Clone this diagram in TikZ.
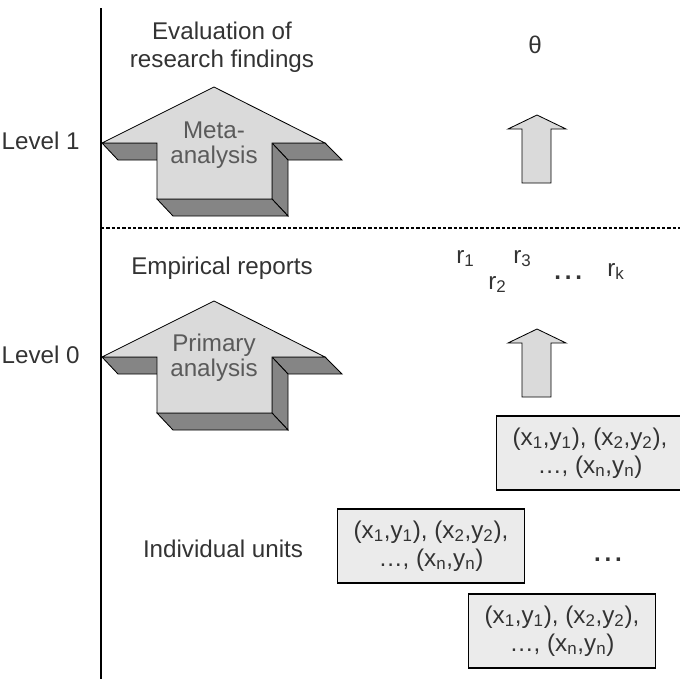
\documentclass[tikz,border=0pt]{standalone}
\usepackage{fontspec}
\setmainfont{Liberation Sans}
\usetikzlibrary{positioning}
\definecolor{ink}{HTML}{333333}
\definecolor{facegray}{HTML}{DADADA}
\definecolor{sidegray}{HTML}{858585}
\definecolor{boxgray}{HTML}{EBEBEB}
\definecolor{labelgray}{HTML}{5A5A5A}
\newcommand{\widedots}{.\hspace{0.16em}.\hspace{0.16em}.}

\begin{document}
\begin{tikzpicture}[x=0.025cm,y=-0.025cm,every node/.style={font=\fontsize{17.2}{20}\selectfont,text=ink,align=center,inner sep=0pt},face/.style={draw=black,fill=facegray,line width=0.6pt,line join=miter},side/.style={draw=black,fill=sidegray,line width=0.6pt},databox/.style={draw=black,fill=boxgray,line width=1.2pt,minimum width=4.675cm,minimum height=1.85cm},arrowtext/.style={text=labelgray,font=\fontsize{17.2}{17.5}\selectfont},moredots/.style={font=\fontsize{17.2}{20}\selectfont\bfseries}]
\useasboundingbox (0,0) rectangle (680,679);
% axis and level separator
\draw[line width=1.4pt] (101,8) -- (101,679);
\draw[line width=0.9pt,dash pattern=on 2.4pt off 1.4pt] (101,228) -- (680,228);
% extruded analysis arrows
\foreach \dy in {0,214}{
\begin{scope}[shift={(0,\dy)}]
\filldraw[side] (102,143) -- (157,143) -- (173,160) -- (118,160) -- cycle;
\filldraw[side] (272,143) -- (325,143) -- (342,160) -- (288,160) -- cycle;
\filldraw[side] (272,143) -- (288,160) -- (288,216) -- (272,199) -- cycle;
\filldraw[side] (157,199) -- (272,199) -- (288,216) -- (173,216) -- cycle;
\filldraw[face] (214,87) -- (325,143) -- (272,143) -- (272,199) -- (157,199) -- (157,143) -- (102,143) -- cycle;
% flat arrows on the right
\filldraw[face] (537,115) -- (566,129) -- (551,129) -- (551,183) -- (522,183) -- (522,129) -- (508,129) -- cycle;
\end{scope}
}
% level 1
\node[anchor=east] (lvl1) at (80,141) {Level 1};
\node (evaluation) at (222,47) {Evaluation of\\research findings};
\node (theta) at (535,45) {θ};
\node[arrowtext] (meta) at (214,145) {Meta-\\analysis};
% level 0
\node[anchor=east] (lvl0) at (80,355) {Level 0};
\node (reports) at (222,268) {Empirical reports};
\node[anchor=base west] (r1) at (456,263) {r\textsubscript{1}};
\node[anchor=base west] (r2) at (488,289) {r\textsubscript{2}};
\node[anchor=base west] (r3) at (513,263) {r\textsubscript{3}};
\node[moredots,anchor=base west] (rdots) at (554,279) {\widedots};
\node[anchor=base west] (rk) at (607,276) {r\textsubscript{k}};
\node[arrowtext] (primary) at (214,358) {Primary\\analysis};
% individual units
\node (units) at (223,549) {Individual units};
\node[databox] (unitA) at (590,453) {(x\textsubscript{1},y\textsubscript{1}), (x\textsubscript{2},y\textsubscript{2}),\\…, (x\textsubscript{n},y\textsubscript{n})};
\node[databox] (unitB) at (431,546) {(x\textsubscript{1},y\textsubscript{1}), (x\textsubscript{2},y\textsubscript{2}),\\…, (x\textsubscript{n},y\textsubscript{n})};
\node[databox] (unitC) at (562,631) {(x\textsubscript{1},y\textsubscript{1}), (x\textsubscript{2},y\textsubscript{2}),\\…, (x\textsubscript{n},y\textsubscript{n})};
\node[moredots] (unitdots) at (608,560) {\widedots};
\end{tikzpicture}
\end{document}
